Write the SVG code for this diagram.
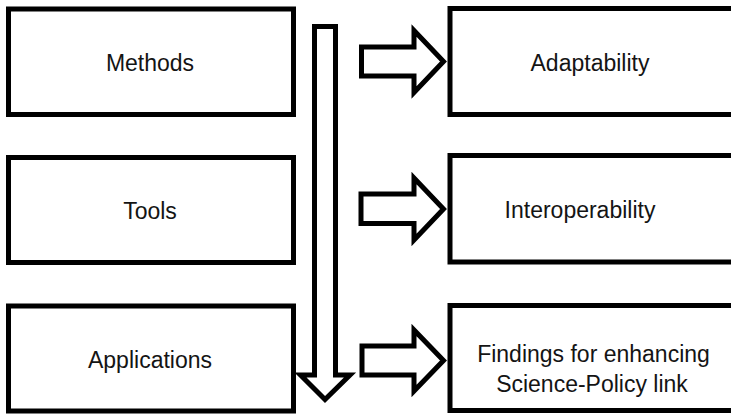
<svg xmlns="http://www.w3.org/2000/svg" width="731" height="414" viewBox="0 0 731 414">
  <style>
    .box { fill: #ffffff; stroke: #000000; stroke-width: 5; }
    .arrow { fill: #ffffff; stroke: #000000; stroke-width: 5; stroke-linejoin: miter; stroke-miterlimit: 10; }
    .label { font-family: "Liberation Sans", Arial, sans-serif; font-size: 23px; fill: #141414; text-anchor: middle; }
  </style>
  <rect width="731" height="414" fill="#ffffff"/>

  <!-- left column: inputs -->
  <g id="methods">
    <rect class="box" x="8.5" y="9" width="285" height="105.5"/>
    <text class="label" x="150" y="71">Methods</text>
  </g>
  <g id="tools">
    <rect class="box" x="8.5" y="157.5" width="285" height="105"/>
    <text class="label" x="150" y="218.5">Tools</text>
  </g>
  <g id="applications">
    <rect class="box" x="8.5" y="306" width="285" height="105"/>
    <text class="label" x="150" y="368">Applications</text>
  </g>

  <!-- right column: outcomes (boxes run past the right edge) -->
  <g id="adaptability">
    <rect class="box" x="450" y="8.5" width="300" height="106"/>
    <text class="label" x="590" y="70.5">Adaptability</text>
  </g>
  <g id="interoperability">
    <rect class="box" x="450" y="155.5" width="300" height="106.5"/>
    <text class="label" x="580" y="218">Interoperability</text>
  </g>
  <g id="findings">
    <rect class="box" x="450" y="305.5" width="300" height="105"/>
    <text class="label" x="593.5" y="361.5">Findings for enhancing</text>
    <text class="label" x="592" y="391.5">Science-Policy link</text>
  </g>

  <!-- block arrows -->
  <g id="connectors">
    <path class="arrow" d="M314.5,26.5 H335.5 V375 H350 L325,399.5 L300.5,375 H314.5 Z"/>
    <path class="arrow" d="M361.5,47 H414 V30.5 L443.5,61.5 L414,92.5 V76 H361.5 Z"/>
    <path class="arrow" d="M361,194 H414 V178 L443.5,209 L414,240 V223.5 H361 Z"/>
    <path class="arrow" d="M362,346 H414 V330 L443.5,360.5 L414,391 V375 H362 Z"/>
  </g>
</svg>
